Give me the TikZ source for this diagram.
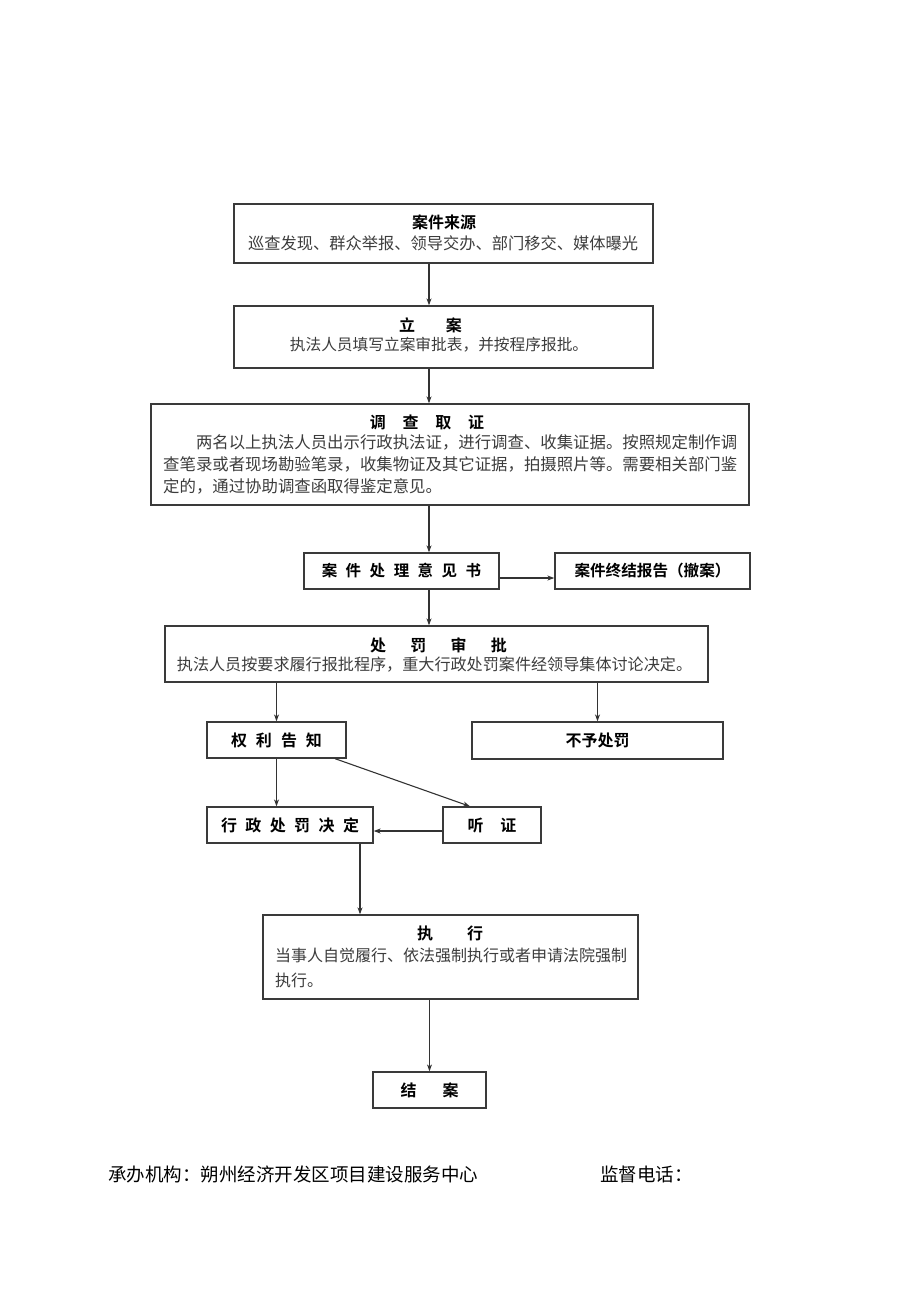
\documentclass[tikz,border=0pt]{standalone}
\usepackage{fontspec}
\setmainfont{Noto Sans CJK SC}[BoldFont={Noto Sans CJK SC Bold}]
\usetikzlibrary{arrows.meta}
\definecolor{boxc}{HTML}{3A3A3A}
\definecolor{bodyc}{HTML}{3C3C3C}
\definecolor{arrc}{HTML}{333333}
\begin{document}
\begin{tikzpicture}[x=1pt,y=-1pt,
  box/.style={draw=boxc, line width=1.3pt, inner sep=0pt},
  ttl/.style={font=\fontsize{16}{20}\selectfont\bfseries, text=black, inner sep=0pt},
  bodyt/.style={font=\fontsize{16}{22}\selectfont, text=bodyc, inner sep=0pt},
  foot/.style={font=\fontsize{18.5}{22}\selectfont, text=black, inner sep=0pt, anchor=west},
  arr/.style={draw=arrc, line width=1.1pt, -{Stealth[length=7pt,width=5pt]}}]
\useasboundingbox (0,0) rectangle (920,1301);

% boxes
\node[box, minimum width=419, minimum height=59] (src) at (443.5,233.5) {};
\node[box, minimum width=419, minimum height=62] (lian) at (443.5,337) {};
\node[box, minimum width=598, minimum height=101] (dc) at (450,454.5) {};
\node[box, minimum width=195, minimum height=36, ttl, font=\fontsize{15.5}{20}\selectfont\bfseries] (yj) at (401.5,571)
  {案\hspace{8.5pt}件\hspace{8.5pt}处\hspace{8.5pt}理\hspace{8.5pt}意\hspace{8.5pt}见\hspace{8.5pt}书};
\node[box, minimum width=195, minimum height=36, ttl, font=\fontsize{15.6}{20}\selectfont\bfseries] (zj) at (652.5,571)
  {案件终结报告（撤案）};
\node[box, minimum width=543, minimum height=56] (sp) at (436.5,654) {};
\node[box, minimum width=139, minimum height=36, ttl] (ql) at (276.5,740)
  {权\hspace{9pt}利\hspace{9pt}告\hspace{9pt}知};
\node[box, minimum width=251, minimum height=37, ttl] (by) at (597.5,740.5) {不予处罚};
\node[box, minimum width=166, minimum height=36, ttl] (jd) at (290,825)
  {行\hspace{8.4pt}政\hspace{8.4pt}处\hspace{8.4pt}罚\hspace{8.4pt}决\hspace{8.4pt}定};
\node[box, minimum width=98, minimum height=36, ttl] (tz) at (492,825)
  {听\hspace{17pt}证};
\node[box, minimum width=375, minimum height=84] (zx) at (450.5,957) {};
\node[box, minimum width=113, minimum height=36, ttl] (ja) at (429.5,1090)
  {结\hspace{26pt}案};

% texts inside multi-line boxes
\node[ttl] (srcT) at (444,222) {案件来源};
\node[bodyt, font=\fontsize{16.25}{22}\selectfont] (srcB) at (443,243) {巡查发现、群众举报、领导交办、部门移交、媒体曝光};
\node[ttl] (lianT) at (430.5,325) {立\hspace{31pt}案};
\node[bodyt, font=\fontsize{15.7}{22}\selectfont] (lianB) at (439,345) {执法人员填写立案审批表，并按程序报批。};
\node[ttl] (dcT) at (427,422) {调\hspace{16.7pt}查\hspace{16.7pt}取\hspace{16.7pt}证};
\node[bodyt, font=\fontsize{16.4}{22}\selectfont, align=left, anchor=west] (dcB) at (163,464)
  {\hspace*{32.8pt}两名以上执法人员出示行政执法证，进行调查、收集证据。按照规定制作调\\
   查笔录或者现场勘验笔录，收集物证及其它证据，拍摄照片等。需要相关部门鉴\\
   定的，通过协助调查函取得鉴定意见。};
\node[ttl] (spT) at (438.5,645) {处\hspace{24.3pt}罚\hspace{24.3pt}审\hspace{24.3pt}批};
\node[bodyt, font=\fontsize{16.1}{22}\selectfont] (spB) at (434.5,665) {执法人员按要求履行报批程序，重大行政处罚案件经领导集体讨论决定。};
\node[ttl] (zxT) at (450,933) {执\hspace{34pt}行};
\node[bodyt, font=\fontsize{16}{25}\selectfont, align=left, anchor=west] (zxB) at (275,967.5)
  {当事人自觉履行、依法强制执行或者申请法院强制\\执行。};

% footer
\node[foot] (f1) at (108,1174) {承办机构：朔州经济开发区项目建设服务中心};
\node[foot] (f2) at (600,1174) {监督电话：};

% connectors
\coordinate (cA) at (429,0);
\coordinate (rY) at (0,578);
\coordinate (qlB) at (335,0);
\coordinate (tzT) at (470,0);
\coordinate (rH) at (0,831);
\coordinate (cJ) at (360,0);
\draw[arr] (src.south -| cA) -- (lian.north -| cA);
\draw[arr] (lian.south -| cA) -- (dc.north -| cA);
\draw[arr] (dc.south -| cA) -- (yj.north -| cA);
\draw[arr] (yj.east |- rY) -- (zj.west |- rY);
\draw[arr] (yj.south -| cA) -- (sp.north -| cA);
\draw[arr] (sp.south -| ql.north) -- (ql.north);
\draw[arr] (sp.south -| by.north) -- (by.north);
\draw[arr] (ql.south) -- (jd.north -| ql.south);
\draw[arr] (ql.south -| qlB) -- (tz.north -| tzT);
\draw[arr] (tz.west |- rH) -- (jd.east |- rH);
\draw[arr] (jd.south -| cJ) -- (zx.north -| cJ);
\draw[arr] (zx.south -| ja.north) -- (ja.north);
\end{tikzpicture}
\end{document}
